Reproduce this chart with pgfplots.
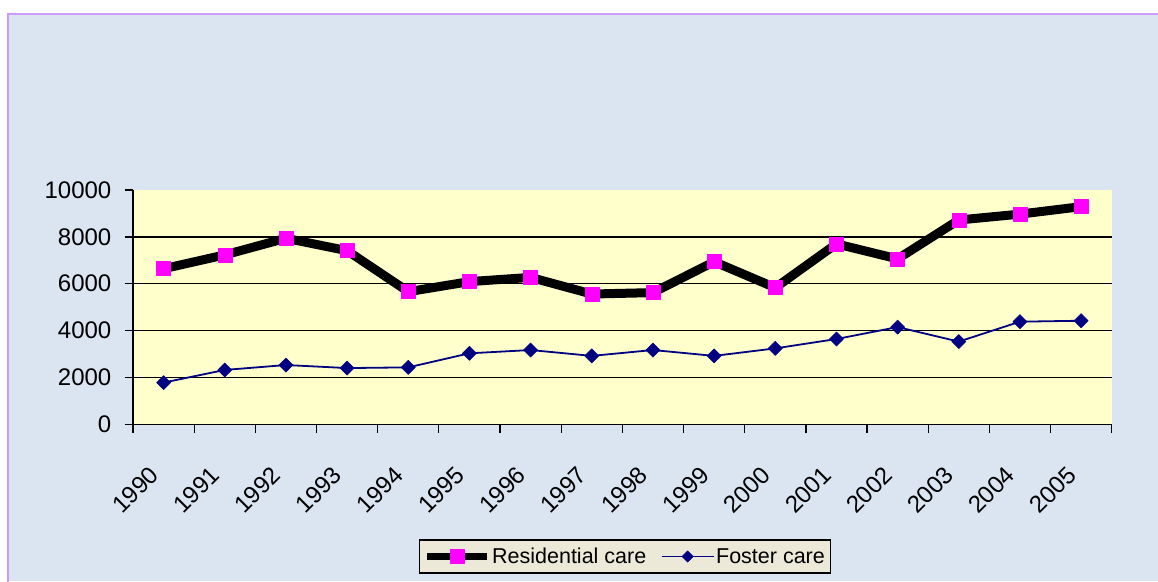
\documentclass[border=0pt]{standalone}
\usepackage{fontspec}
\setmainfont{Liberation Sans}
\usepackage{pgfplots}
\pgfplotsset{compat=1.18}
\definecolor{bgblue}{RGB}{219,229,241}
\definecolor{plotyellow}{RGB}{255,255,204}
\definecolor{borderpurple}{RGB}{204,153,255}
\definecolor{legendbg}{RGB}{236,233,216}
\definecolor{navyc}{RGB}{0,0,128}
\definecolor{magentam}{RGB}{255,0,255}
\newcommand\tickfont{\fontsize{24}{28}\selectfont}
\newcommand\legfont{\fontsize{21.5}{25}\selectfont}
\pgfplotsset{
  resleg/.style={legend image code/.code={\draw[##1,line width=7pt,mark repeat=2,mark phase=2] plot coordinates {(0pt,0pt) (30pt,0pt) (60pt,0pt)};}},
  fosleg/.style={legend image code/.code={\draw[##1,mark size=4pt,mark repeat=2,mark phase=2] plot coordinates {(0pt,0pt) (26pt,0pt) (52pt,0pt)};}},
}
\pgfplotstableread{
x res fos
0 6640 1780
1 7230 2320
2 7940 2530
3 7410 2400
4 5660 2430
5 6090 3030
6 6270 3170
7 5560 2920
8 5620 3170
9 6940 2920
10 5830 3240
11 7700 3640
12 7060 4150
13 8720 3530
14 8970 4380
15 9290 4420
}\datatable
\begin{document}
\begin{tikzpicture}[x=1pt,y=1pt]
\useasboundingbox (0,0) rectangle (1158,581);
\fill[white] (0,0) rectangle (1158,581);
\fill[bgblue] (8,0) rectangle (1158,566.5);
\draw[borderpurple, line width=2pt] (8,-5) -- (8,566.5) -- (1165,566.5);
\begin{axis}[
  at={(133pt,156.7pt)}, anchor=south west,
  scale only axis, width=978.7pt, height=234.3pt,
  xmin=-0.5, xmax=15.5, ymin=0, ymax=10000,
  axis background/.style={fill=plotyellow},
  axis x line=bottom, axis y line=left,
  x axis line style={-, line width=1.4pt},
  y axis line style={-, line width=1.4pt},
  tick align=outside, major tick length=8.5pt,
  tick style={black, line width=1.3pt},
  xtick={-0.5,0.5,1.5,2.5,3.5,4.5,5.5,6.5,7.5,8.5,9.5,10.5,11.5,12.5,13.5,14.5,15.5},
  xticklabels={},
  extra x ticks={0,1,2,3,4,5,6,7,8,9,10,11,12,13,14,15},
  extra x tick labels={1990,1991,1992,1993,1994,1995,1996,1997,1998,1999,2000,2001,2002,2003,2004,2005},
  extra x tick style={tick style={draw=none}},
  xticklabel style={font=\tickfont, anchor=north east, inner sep=0pt, xshift=-15.5pt, yshift=-32pt, rotate=45},
  ytick={0,2000,4000,6000,8000,10000},
  yticklabels={0,2000,4000,6000,8000,10000},
  yticklabel style={font=\tickfont, anchor=east, inner sep=0pt, xshift=-13pt},
  extra y ticks={2000,4000,6000,8000},
  extra y tick labels={},
  extra y tick style={grid=major, major grid style={black, line width=1.3pt}, tick style={draw=none}},
  scaled y ticks=false,
  clip=false,
  legend style={font=\legfont, fill=legendbg, draw=black, line width=1.3pt,
    at={(0.5027,-0.5642)}, anchor=center, inner xsep=4pt, inner ysep=7pt,
    nodes={inner xsep=1.5pt, inner ysep=1pt},
    /tikz/every even column/.append style={column sep=13pt}},
  legend columns=2,
]
\addplot[black, line width=9pt, line join=round, mark=square*, mark size=7pt,
  mark options={fill=magentam, draw=magentam, line width=0.5pt}, resleg] table[x=x,y=res]{\datatable};
\addlegendentry{Residential care}
\addplot[navyc, line width=1.8pt, line join=round, mark=square*, mark size=5pt,
  mark options={rotate=45, fill=navyc, draw=navyc, line width=0.5pt}, fosleg] table[x=x,y=fos]{\datatable};
\addlegendentry{Foster care}
\end{axis}
\end{tikzpicture}
\end{document}
